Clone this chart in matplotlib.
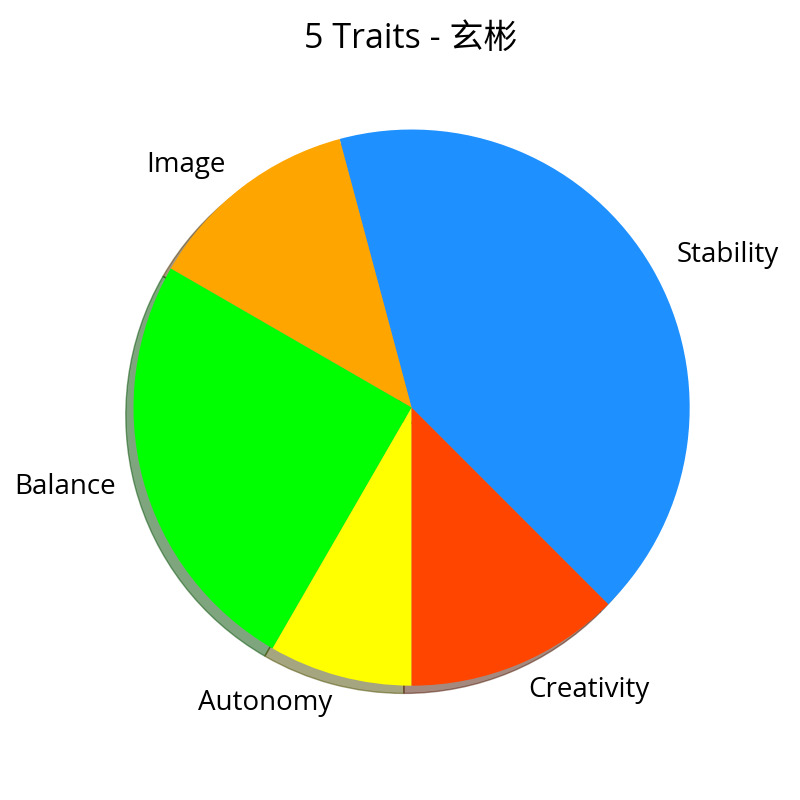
import matplotlib
matplotlib.use("Agg")
import matplotlib.pyplot as plt

plt.rcParams['font.family'] = ['Open Sans', 'Noto Sans CJK SC', 'DejaVu Sans']

labels = ['Stability', 'Image', 'Balance', 'Autonomy', 'Creativity']
values = [10, 3, 6, 2, 3]
colors = ['dodgerblue', 'orange', 'lime', 'yellow', 'orangered']

fig = plt.figure(figsize=(8, 8), dpi=100)
ax = fig.add_axes([0.080, 0.056, 0.869, 0.869])

ax.pie(values, labels=labels, colors=colors, startangle=-45, shadow=True,
       textprops={'fontsize': 20})
ax.set_aspect('equal')

fig.text(0.514, 0.951, '5 Traits - 玄彬', fontsize=24.5, ha='center', va='center')

fig.savefig('out.png')
